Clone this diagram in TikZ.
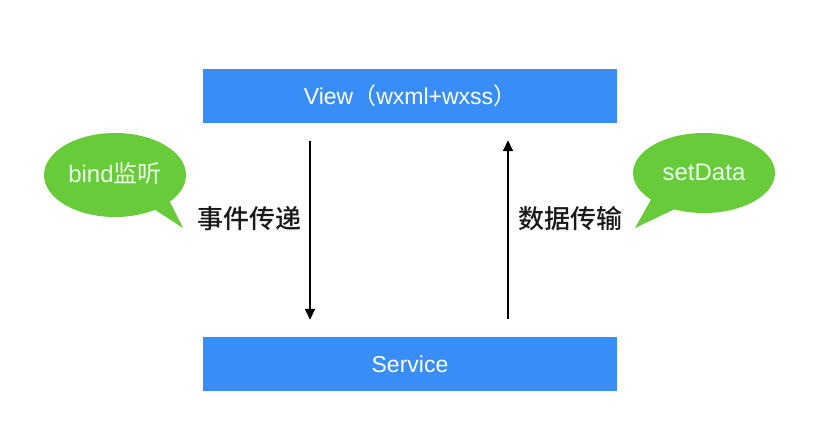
\documentclass[tikz,border=0pt]{standalone}
\usepackage{fontspec}
\setmainfont{Liberation Sans}
\newfontfamily\cjk{Noto Sans CJK SC}
\newfontfamily\cjkmed{Noto Sans CJK SC}[UprightFont=* Medium]
\usetikzlibrary{arrows.meta}
\definecolor{boxblue}{RGB}{56,142,246}
\definecolor{bubgreen}{RGB}{104,203,58}
\begin{document}
\begin{tikzpicture}[x=1pt,y=-1pt,
  bluebox/.style={fill=boxblue,draw=none,minimum width=414pt,minimum height=54pt,inner sep=0pt,text=white,font=\fontsize{23}{26}\selectfont},
  bubble/.style={fill=bubgreen,draw=none},
  bubtext/.style={text=white!92!green,font=\fontsize{24}{27}\selectfont},
  label/.style={text=black!90,font=\fontsize{26}{29}\selectfont\cjkmed},
  flow/.style={line width=1.5pt,-{Triangle[length=11pt,width=10pt]},shorten <=18pt,shorten >=17pt}]
\useasboundingbox[fill=white] (0,0) rectangle (823,428);
\node[bluebox] (view) at (410,96) {View{\cjk（}wxml+wxss{\cjk）}};
\node[bluebox] (service) at (410,364) {Service};
\draw[flow] ([xshift=-100pt]view.south) -- ([xshift=-100pt]service.north);
\draw[flow] ([xshift=98pt]service.north) -- ([xshift=98pt]view.south);
\node[label] (l1) at (249,219) {事件传递};
\node[label] (l2) at (570,219) {数据传输};
% left bubble
\fill[bubble] (140,200) -- (183,228) -- (168,198) -- cycle;
\fill[bubble] (115,175) ellipse [x radius=71, y radius=42];
\node[bubtext] (b1) at (115,173) {bind{\cjk 监听}};
% right bubble
\fill[bubble] (653,196) -- (635,228) -- (677,208) -- cycle;
\fill[bubble] (704,173) ellipse [x radius=71, y radius=40];
\node[bubtext] (b2) at (704,172) {setData};
\end{tikzpicture}
\end{document}
